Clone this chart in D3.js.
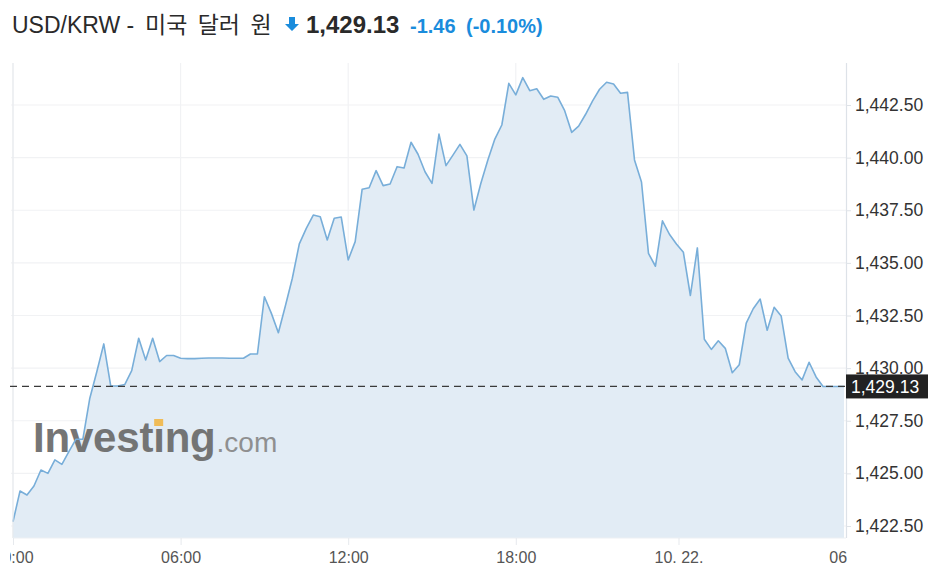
<!DOCTYPE html>
<html><head><meta charset="utf-8">
<script src="https://cdn.jsdelivr.net/npm/d3@7/dist/d3.min.js"></script>
<style>
body{margin:0;background:#fff}
text{font-family:"Liberation Sans",Arial,"Noto Sans CJK KR",sans-serif}
</style>
</head><body>
<svg id="chart" width="940" height="579"></svg>
<script>
// ---- data (15-minute closes, USD/KRW) ----
const values = [
 1422.70,1424.16,1423.97,1424.40,1425.16,1425.00,1425.64,1425.43,1426.03,1426.62,
 1426.62,1428.57,1429.83,1431.15,1429.15,1429.15,1429.22,1429.88,1431.42,1430.39,
 1431.42,1430.31,1430.60,1430.60,1430.47,1430.45,1430.45,1430.47,1430.48,1430.48,
 1430.48,1430.47,1430.47,1430.47,1430.67,1430.67,1433.39,1432.60,1431.68,1432.95,
 1434.27,1435.90,1436.64,1437.27,1437.19,1436.09,1437.12,1437.18,1435.14,1436.01,
 1438.50,1438.57,1439.38,1438.67,1438.75,1439.57,1439.51,1440.73,1440.16,1439.33,
 1438.78,1441.12,1439.62,1440.12,1440.63,1440.08,1437.51,1438.78,1439.89,1440.88,
 1441.55,1443.53,1442.98,1443.80,1443.18,1443.27,1442.77,1442.93,1442.87,1442.23,
 1441.20,1441.50,1442.06,1442.70,1443.25,1443.58,1443.50,1443.06,1443.10,1439.89,
 1438.84,1435.45,1434.84,1437.00,1436.36,1435.90,1435.50,1433.45,1435.71,1431.37,
 1430.89,1431.30,1430.94,1429.78,1430.16,1432.14,1432.82,1433.28,1431.80,1432.89,
 1432.48,1430.47,1429.83,1429.44,1430.28,1429.58,1429.13,1429.13,1429.13,1429.13
];
const xTickIndex  = [0, 24, 48, 72, 95.3, 119.7];
const xTickLabels = ["00:00", "06:00", "12:00", "18:00", "10. 22.", "06:00"];
const yTicks = [1422.5, 1425, 1427.5, 1430, 1432.5, 1435, 1437.5, 1440, 1442.5];
const lastPrice = 1429.13;
const priceChange = -1.46;
const priceChangePct = -0.10;
const titleLatin = "USD/KRW -";
const titleKorean = "미국 달러 원";

// ---- layout ----
const W = 940, H = 579;
const plotL = 13, plotR = 846, plotT = 63, plotB = 538;
const svg = d3.select("#chart");
svg.append("rect").attr("width", W).attr("height", H).attr("fill", "#fff");

const x = d3.scaleLinear().domain([0, 119]).range([13, 844]);
const y = d3.scaleLinear().domain([1422.5, 1442.5]).range([526, 105]);

const loc = d3.formatLocale({decimal: ".", thousands: ",", grouping: [3], currency: ["", ""], minus: "-"});
const fmt = loc.format(",.2f");
const fmt2 = loc.format(".2f");

// ---- grid ----
const grid = svg.append("g");
grid.selectAll("line.h").data(yTicks).join("line")
  .attr("x1", 11).attr("x2", plotR)
  .attr("y1", d => y(d)).attr("y2", d => y(d))
  .attr("stroke", "#f1f2f4").attr("stroke-width", 1.2);
grid.selectAll("line.v").data(xTickIndex.slice(0, -1)).join("line")
  .attr("x1", d => x(d)).attr("x2", d => x(d))
  .attr("y1", plotT).attr("y2", plotB)
  .attr("stroke", "#f1f2f4").attr("stroke-width", 1.2);

// ---- area + line ----
const area = d3.area().x((d, i) => x(i)).y0(plotB).y1(d => y(d));
const line = d3.line().x((d, i) => x(i)).y(d => y(d));

svg.append("path").datum(values).attr("d", area)
  .attr("fill", "#e2ecf5");

// watermark
const wm = svg.append("g").attr("opacity", 0.92);
const wmText = wm.append("text").attr("x", 33).attr("y", 452)
  .attr("font-size", 42).attr("font-weight", "bold").attr("fill", "#6a6a6a")
  .attr("letter-spacing", -0.2)
  .text("Investıng");
const wmCom = wm.append("text").attr("y", 452)
  .attr("font-size", 28).attr("fill", "#888").text(".com");
{
  const n = wmText.node();
  const endX = 33 + n.getComputedTextLength();
  wmCom.attr("x", endX + 1);
  const p = n.getStartPositionOfChar(6);
  wm.append("rect").attr("x", p.x + 1).attr("y", 419).attr("width", 9).attr("height", 7)
    .attr("fill", "#f2b84b");
}

svg.append("path").datum(values).attr("d", line)
  .attr("fill", "none").attr("stroke", "#78aed9").attr("stroke-width", 1.6)
  .attr("stroke-linejoin", "round");

// left / right frame lines
svg.append("line").attr("x1", plotL).attr("x2", plotL).attr("y1", plotT).attr("y2", plotB)
  .attr("stroke", "#e6e9ed");
svg.append("line").attr("x1", plotR + 0.5).attr("x2", plotR + 0.5).attr("y1", plotT).attr("y2", plotB)
  .attr("stroke", "#dde2e8").attr("stroke-width", 1.2);
svg.append("line").attr("x1", plotL).attr("x2", plotR).attr("y1", plotB).attr("y2", plotB)
  .attr("stroke", "#edf0f3");

// ---- current price dashed line ----
svg.append("line").attr("x1", 10).attr("x2", plotR)
  .attr("y1", y(lastPrice)).attr("y2", y(lastPrice))
  .attr("stroke", "#3a3a3a").attr("stroke-width", 1.2).attr("stroke-dasharray", "7,5");

// ---- right axis ----
const yAxis = d3.axisRight(y).tickValues(yTicks).tickFormat(fmt).tickSize(5).tickPadding(4);
const gy = svg.append("g").attr("transform", `translate(${plotR},0)`).call(yAxis);
gy.select(".domain").remove();
gy.selectAll(".tick line").attr("stroke", "#dfe3e8");
gy.selectAll(".tick text").attr("font-size", 17.5).attr("fill", "#333")
  .attr("font-family", '"Liberation Sans",Arial,sans-serif');

// current price tag
const tag = svg.append("g");
tag.append("rect").attr("x", plotR).attr("y", y(lastPrice) - 12).attr("width", 82).attr("height", 24)
  .attr("fill", "#222");
tag.append("text").attr("x", plotR + 5).attr("y", y(lastPrice)).attr("dy", "0.35em")
  .attr("font-size", 17.5).attr("fill", "#fff").text(fmt(lastPrice));

// ---- bottom axis ----
svg.append("clipPath").attr("id", "xclip").append("rect")
  .attr("x", 10).attr("y", -2).attr("width", 837).attr("height", 40);
const xAxis = d3.axisBottom(x).tickValues(xTickIndex)
  .tickFormat((d, i) => xTickLabels[i]).tickSize(7).tickPadding(7);
const gx = svg.append("g").attr("transform", `translate(0,${plotB})`)
  .attr("clip-path", "url(#xclip)").call(xAxis);
gx.select(".domain").remove();
gx.selectAll(".tick line").attr("stroke", "#e6e9ed");
gx.selectAll(".tick text").attr("font-size", 16).attr("fill", "#555")
  .attr("font-family", '"Liberation Sans",Arial,sans-serif');

// ---- title ----
const title = svg.append("g");
title.append("text").attr("x", 12).attr("y", 33).attr("font-size", 23).attr("fill", "#2a2a2a")
  .text(titleLatin);
title.append("text").attr("x", 145).attr("y", 33).attr("font-size", 23).attr("fill", "#2a2a2a")
  .attr("font-family", '"Noto Sans CJK KR",sans-serif').attr("word-spacing", 4)
  .text(titleKorean);
// down arrow
title.append("path")
  .attr("d", "M289,17 h6 v7 h4 l-7,7 l-7,-7 h4 z")
  .attr("fill", "#1a8cdc");
title.append("text").attr("x", 306).attr("y", 33).attr("font-size", 24).attr("font-weight", "bold")
  .attr("fill", "#2a2a2a").text(fmt(lastPrice));
title.append("text").attr("x", 410).attr("y", 33).attr("font-size", 20).attr("font-weight", "bold")
  .attr("fill", "#1a8cdc").text(fmt2(priceChange));
title.append("text").attr("x", 466).attr("y", 33).attr("font-size", 20).attr("font-weight", "bold")
  .attr("fill", "#1a8cdc").text("(" + fmt2(priceChangePct) + "%)");
</script>
</body></html>
